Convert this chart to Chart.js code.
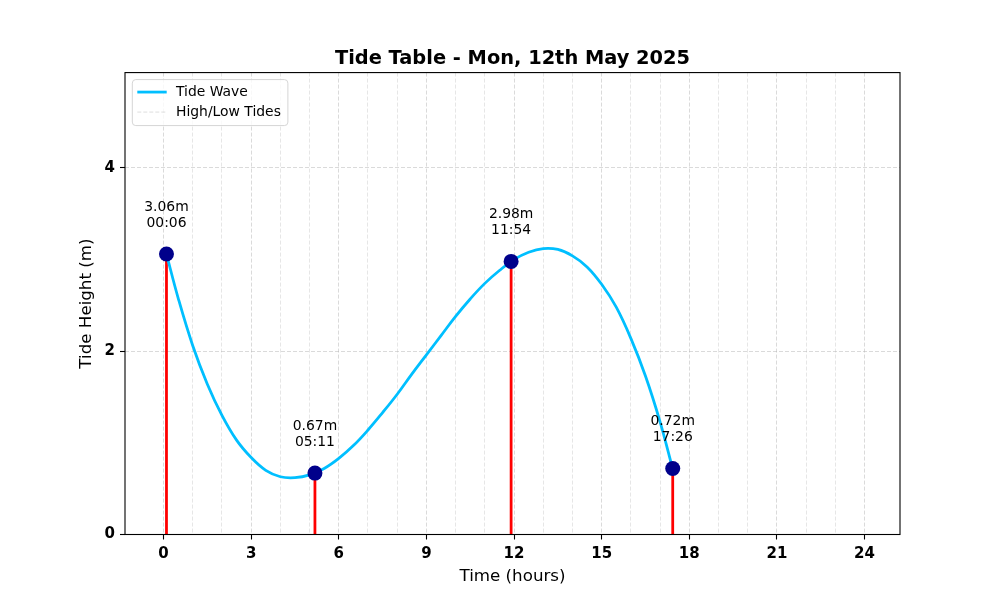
<!DOCTYPE html>
<html><head><meta charset="utf-8">
<script src="https://cdn.jsdelivr.net/npm/chart.js@4.4.1/dist/chart.umd.min.js"></script>
<style>html,body{margin:0;padding:0;background:#fff;} #wrap{width:1000px;height:600px;}</style>
</head><body><div id="wrap"><canvas id="c" width="1000" height="600"></canvas></div>
<script>
const chartTitle = 'Tide Table - Mon, 12th May 2025';
const xAxisTitle = 'Time (hours)';
const yAxisTitle = 'Tide Height (m)';
const waveLabel = 'Tide Wave';
const tidesLabel = 'High/Low Tides';

// Tide wave curve (hours, metres)
const waveHours   = [0.1, 0.5, 1, 1.5, 2, 2.5, 3, 3.5, 4, 4.5, 5, 5.5, 6, 6.5, 7, 7.5, 8, 8.5, 9, 9.5, 10, 10.5, 11, 11.5, 12, 12.5, 13, 13.5, 14, 14.5, 15, 15.5, 16, 16.5, 17, 17.43];
const waveHeights = [3.06, 2.58, 2.06, 1.64, 1.30, 1.03, 0.84, 0.70, 0.63, 0.62, 0.65, 0.72, 0.83, 0.97, 1.14, 1.33, 1.53, 1.75, 1.96, 2.17, 2.38, 2.57, 2.74, 2.88, 3.00, 3.08, 3.12, 3.11, 3.04, 2.92, 2.73, 2.48, 2.14, 1.73, 1.23, 0.72];

// High / low tides
const tideTimes   = ['00:06', '05:11', '11:54', '17:26'];
const tideHeights = [3.06, 0.67, 2.98, 0.72];

// Axis ticks
const xMajorTicks = [0, 3, 6, 9, 12, 15, 18, 21, 24];
const xMinorRange = [0, 24];
const yTicks = [0, 2, 4];

const tideHours = tideTimes.map(t => { const [h, m] = t.split(':').map(Number); return h + m / 60; });

const wavePoints = waveHours.map((h, i) => ({x: h, y: waveHeights[i]}));
const tidePoints = tideHours.map((h, i) => ({x: h, y: tideHeights[i]}));
const stemPoints = [];
tideHours.forEach((h, i) => { stemPoints.push({x: h, y: 0}, {x: h, y: tideHeights[i]}, {x: h, y: null}); });

Chart.defaults.font.family = '"DejaVu Sans", sans-serif';
Chart.defaults.color = '#000';

const overlay = {
  id: 'overlay',
  afterDatasetsDraw(chart) {
    const {ctx, chartArea: a, scales: {x, y}} = chart;
    ctx.save();
    // annotations
    ctx.font = '13.9px "DejaVu Sans"';
    ctx.fillStyle = '#000';
    ctx.textAlign = 'center';
    ctx.textBaseline = 'middle';
    tideHours.forEach((h, i) => {
      const px = x.getPixelForValue(h), py = y.getPixelForValue(tideHeights[i]);
      ctx.fillText(tideHeights[i].toFixed(2) + 'm', px, py - 47);
      ctx.fillText(tideTimes[i], px, py - 31);
    });
    // frame
    ctx.strokeStyle = '#000';
    ctx.lineWidth = 1.1;
    ctx.strokeRect(a.left, a.top, a.right - a.left, a.bottom - a.top);
    // legend
    const bx = a.left + 7.3, by = a.top + 7, bh = 46;
    const tx = bx + 43.7;
    const tw = Math.max(ctx.measureText(waveLabel).width, ctx.measureText(tidesLabel).width);
    const bw = tx - bx + tw + 7;
    const r = 3.5;
    ctx.beginPath();
    ctx.moveTo(bx + r, by);
    ctx.lineTo(bx + bw - r, by); ctx.arcTo(bx + bw, by, bx + bw, by + r, r);
    ctx.lineTo(bx + bw, by + bh - r); ctx.arcTo(bx + bw, by + bh, bx + bw - r, by + bh, r);
    ctx.lineTo(bx + r, by + bh); ctx.arcTo(bx, by + bh, bx, by + bh - r, r);
    ctx.lineTo(bx, by + r); ctx.arcTo(bx, by, bx + r, by, r);
    ctx.closePath();
    ctx.fillStyle = 'rgba(255,255,255,0.8)';
    ctx.fill();
    ctx.strokeStyle = '#d5d5d5';
    ctx.lineWidth = 1;
    ctx.stroke();
    // handles
    const y1 = by + 12.5, y2 = by + 32.5;
    ctx.strokeStyle = '#00BFFF'; ctx.lineWidth = 2.78;
    ctx.beginPath(); ctx.moveTo(bx + 5, y1); ctx.lineTo(bx + 34.4, y1); ctx.stroke();
    ctx.strokeStyle = 'rgba(176,176,176,0.5)'; ctx.lineWidth = 0.8; ctx.setLineDash([4, 2]);
    ctx.beginPath(); ctx.moveTo(bx + 5, y2); ctx.lineTo(bx + 34.4, y2); ctx.stroke();
    ctx.setLineDash([]);
    ctx.fillStyle = '#000';
    ctx.textAlign = 'left';
    ctx.fillText(waveLabel, tx, y1);
    ctx.fillText(tidesLabel, tx, y2);
    ctx.restore();
  }
};

const isMajor = v => xMajorTicks.includes(Math.round(v * 1000) / 1000);

new Chart(document.getElementById('c'), {
  type: 'line',
  data: {
    datasets: [
      {label: tidesLabel, data: tidePoints, showLine: false, pointRadius: 7.5, pointHoverRadius: 7.5,
       pointBackgroundColor: '#00008B', pointBorderColor: '#00008B', pointBorderWidth: 0},
      {label: waveLabel, data: wavePoints, borderColor: '#00BFFF', borderWidth: 2.78, pointRadius: 0,
       tension: 0.4, fill: false, borderJoinStyle: 'round'},
      {label: 'stems', data: stemPoints, borderColor: '#FF0000', borderWidth: 2.78, pointRadius: 0,
       spanGaps: false, tension: 0, fill: false, borderCapStyle: 'butt'}
    ]
  },
  options: {
    responsive: false,
    animation: false,
    events: [],
    layout: {padding: {left: 0, right: 100, top: 0, bottom: 0}},
    plugins: {
      legend: {display: false},
      tooltip: {enabled: false},
      title: {display: true, text: chartTitle, fullSize: false, color: '#000',
              font: {family: '"DejaVu Sans"', size: 19.4, weight: 'bold', lineHeight: 1.2},
              padding: {top: 47.4, bottom: 1.9}}
    },
    scales: {
      x: {
        type: 'linear', min: -1.32, max: 25.215, offset: false,
        afterFit(s) { s.height = 65.5; },
        ticks: {stepSize: 1, includeBounds: false, autoSkip: false, maxRotation: 0, padding: 6,
                font: {size: 15, weight: 'bold'}, color: '#000',
                callback: v => isMajor(v) ? String(v) : ''},
        grid: {
          color: c => { const v = c.tick.value; if (v < xMinorRange[0] || v > xMinorRange[1]) return 'rgba(0,0,0,0)';
                        return isMajor(v) ? 'rgba(176,176,176,0.6)' : 'rgba(176,176,176,0.4)'; },
          lineWidth: 0.8, drawTicks: true, tickLength: 5, tickWidth: 1.1,
          tickColor: c => isMajor(c.tick.value) ? '#000' : 'rgba(0,0,0,0)',
          tickBorderDash: [], borderDash: [4, 2]
        },
        border: {display: false, dash: [4, 2]},
        title: {display: true, text: xAxisTitle, color: '#000', font: {size: 16.7, lineHeight: 1.2},
                padding: {top: 0, bottom: 13}}
      },
      y: {
        type: 'linear', min: 0, max: 5.04,
        afterFit(s) { s.width = 125; },
        ticks: {stepSize: 2, includeBounds: false, padding: 5, font: {size: 15, weight: 'bold'}, color: '#000',
                callback: v => yTicks.includes(v) ? String(v) : ''},
        grid: {color: 'rgba(176,176,176,0.6)', lineWidth: 0.8, drawTicks: true, tickLength: 5, tickWidth: 1.1,
               tickColor: '#000', tickBorderDash: [], borderDash: [4, 2]},
        border: {display: false, dash: [4, 2]},
        title: {display: true, text: yAxisTitle, color: '#000', font: {size: 16.7, lineHeight: 1.2},
                padding: {top: 77, bottom: 0}}
      }
    }
  },
  plugins: [overlay]
});
</script>
</body></html>
